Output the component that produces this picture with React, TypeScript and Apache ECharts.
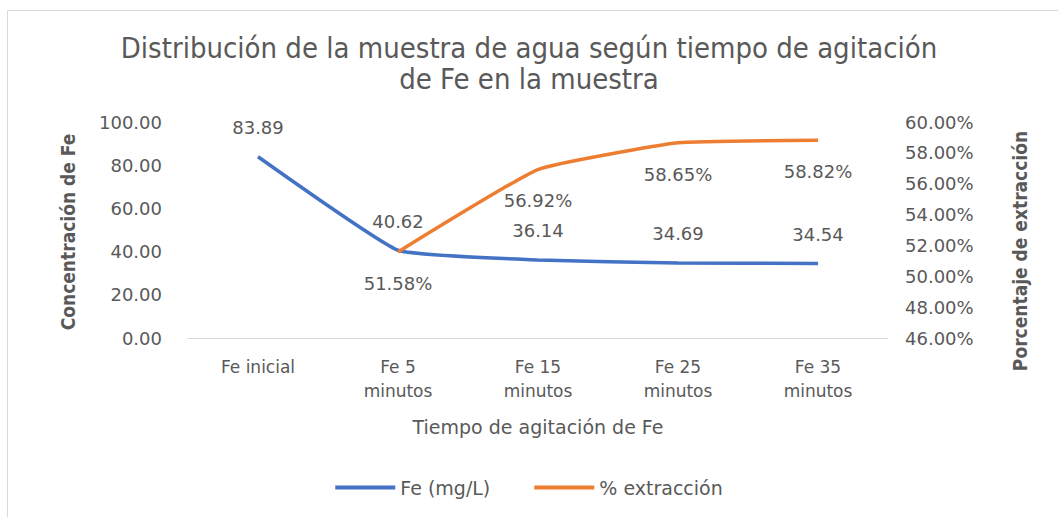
import React, { useEffect, useRef } from "react";
import * as echarts from "echarts";

const categories = ["Fe inicial", "Fe 5\nminutos", "Fe 15\nminutos", "Fe 25\nminutos", "Fe 35\nminutos"];
const feValues = [83.89, 40.62, 36.14, 34.69, 34.54];
const extractionValues: (number | null)[] = [null, 51.58, 56.92, 58.65, 58.82];
const leftTicks = { min: 0, max: 100, interval: 20 };
const rightTicks = { min: 46, max: 60, interval: 2 };

const TEXT = "#595959";
const BODY_FONT = "'DejaVu Sans', Verdana, sans-serif";
const NARROW_FONT = "'Liberation Sans Narrow', 'DejaVu Sans Condensed', 'Open Sans', sans-serif";

export default function App() {
  const ref = useRef<HTMLDivElement>(null);
  useEffect(() => {
    if (!ref.current) return;
    const chart = echarts.init(ref.current, undefined, { renderer: "svg" });
    chart.setOption({
      animation: false,
      backgroundColor: "#ffffff",
      title: {
        text: "Distribución de la muestra de agua según tiempo de agitación\nde Fe en la muestra",
        left: "center",
        top: 27,
        textStyle: {
          fontFamily: NARROW_FONT,
          fontSize: 29,
          fontWeight: "normal",
          color: TEXT,
          lineHeight: 31,
        },
      },
      graphic: [
        {
          type: "rect",
          shape: { x: 7.5, y: 10.5, width: 1200, height: 700 },
          style: { fill: "none", stroke: "#d9d9d9", lineWidth: 1 },
          silent: true,
        },
        {
          type: "text",
          x: 68,
          y: 232,
          rotation: Math.PI / 2,
          style: {
            text: "Concentración de Fe",
            fontFamily: NARROW_FONT,
            fontSize: 19,
            fontWeight: "bold",
            fill: TEXT,
            align: "center",
            verticalAlign: "middle",
          },
        },
        {
          type: "text",
          x: 1020,
          y: 251,
          rotation: Math.PI / 2,
          style: {
            text: "Porcentaje de extracción",
            fontFamily: NARROW_FONT,
            fontSize: 19,
            fontWeight: "bold",
            fill: TEXT,
            align: "center",
            verticalAlign: "middle",
          },
        },
      ],
      legend: {
        bottom: 15,
        left: "center",
        itemWidth: 60,
        itemHeight: 4,
        itemGap: 44,
        icon: "rect",
        textStyle: { fontFamily: BODY_FONT, fontSize: 19, color: TEXT },
        data: ["Fe (mg/L)", "% extracción"],
      },
      grid: { left: 188, right: 170, top: 122, bottom: 179 },
      xAxis: {
        type: "category",
        data: categories,
        boundaryGap: true,
        name: "Tiempo de agitación de Fe",
        nameLocation: "middle",
        nameGap: 79,
        nameTextStyle: { fontFamily: BODY_FONT, fontSize: 19, color: TEXT },
        axisLine: { show: true, lineStyle: { color: "#d9d9d9", width: 1 } },
        axisTick: { show: false },
        axisLabel: {
          fontFamily: BODY_FONT,
          fontSize: 17,
          color: TEXT,
          margin: 17,
          lineHeight: 24,
          interval: 0,
        },
      },
      yAxis: [
        {
          type: "value",
          min: leftTicks.min,
          max: leftTicks.max,
          interval: leftTicks.interval,
          position: "left",
          axisLine: { show: false },
          axisTick: { show: false },
          splitLine: { show: false },
          axisLabel: {
            fontFamily: BODY_FONT,
            fontSize: 18,
            color: TEXT,
            margin: 26,
            formatter: (v: number) => v.toFixed(2),
          },
        },
        {
          type: "value",
          min: rightTicks.min,
          max: rightTicks.max,
          interval: rightTicks.interval,
          position: "right",
          axisLine: { show: false },
          axisTick: { show: false },
          splitLine: { show: false },
          axisLabel: {
            fontFamily: BODY_FONT,
            fontSize: 18,
            color: TEXT,
            margin: 17,
            formatter: (v: number) => v.toFixed(2) + "%",
          },
        },
      ],
      series: [
        {
          name: "Fe (mg/L)",
          type: "line",
          yAxisIndex: 0,
          data: feValues,
          smooth: 0.12,
          symbol: "circle",
          symbolSize: 0.5,
          showSymbol: true,
          lineStyle: { color: "#4472C4", width: 3.5 },
          itemStyle: { color: "#4472C4" },
          labelLayout: { hideOverlap: false },
          label: {
            show: true,
            position: "top",
            distance: 20,
            fontFamily: BODY_FONT,
            fontSize: 18,
            color: TEXT,
            formatter: (p: any) => Number(p.value).toFixed(2),
          },
        },
        {
          name: "% extracción",
          type: "line",
          yAxisIndex: 1,
          data: extractionValues,
          smooth: 0.12,
          symbol: "circle",
          symbolSize: 0.5,
          showSymbol: true,
          connectNulls: false,
          lineStyle: { color: "#ED7D31", width: 3.5 },
          itemStyle: { color: "#ED7D31" },
          labelLayout: { hideOverlap: false },
          label: {
            show: true,
            position: "bottom",
            distance: 22,
            fontFamily: BODY_FONT,
            fontSize: 18,
            color: TEXT,
            formatter: (p: any) => Number(p.value).toFixed(2) + "%",
          },
        },
      ],
    });
    return () => chart.dispose();
  }, []);
  return (
    <div
      ref={ref}
      style={{ position: "fixed", left: 0, top: 0, width: 1058, height: 517 }}
    />
  );
}
